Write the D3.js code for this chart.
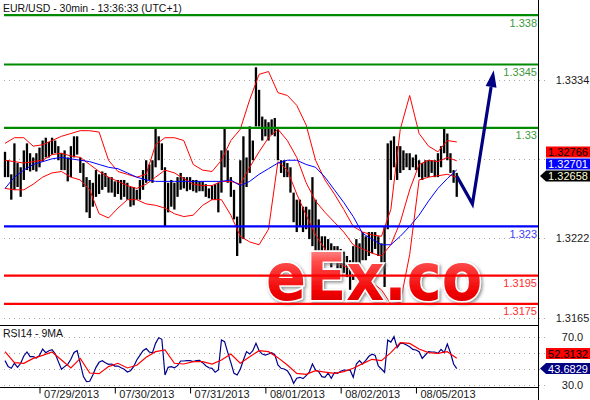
<!DOCTYPE html>
<html>
<head>
<meta charset="utf-8">
<script src="https://cdnjs.cloudflare.com/ajax/libs/d3/7.8.5/d3.min.js"></script>
<style>
body { margin: 0; background: #fff; }
svg { display: block; font-family: "Liberation Sans", Arial, sans-serif; }
</style>
</head>
<body>
<div id="chart"></div>
<script>
// ---- data (hourly bars, index 0 = 07/28 13:00) ----
var dayLabels = ["07/29/2013", "07/30/2013", "07/31/2013", "08/01/2013", "08/02/2013", "08/05/2013"];
var dayStart = [11, 35, 59, 83, 107, 131];

var barHigh = [
  1.3283, 1.3277, 1.3267, 1.3289, 1.3275, 1.3272, 1.3284, 1.3289, 1.3282, 1.3279,
  1.3282, 1.3286, 1.3291, 1.3293, 1.3290, 1.3293, 1.3291, 1.3287, 1.3282, 1.3284,
  1.3279, 1.3287, 1.3294, 1.3294, 1.3279, 1.3275, 1.3265, 1.3263, 1.3261, 1.3270,
  1.3267, 1.3269, 1.3268, 1.3265, 1.3265, 1.3262, 1.3263, 1.3263, 1.3263, 1.3261,
  1.3258, 1.3258, 1.3256, 1.3263, 1.3270, 1.3277, 1.3274, 1.3277, 1.3300, 1.3294,
  1.3289, 1.3272, 1.3261, 1.3263, 1.3261, 1.3265, 1.3268, 1.3265, 1.3265, 1.3265,
  1.3263, 1.3263, 1.3262, 1.3262, 1.3260, 1.3257, 1.3259, 1.3260, 1.3261, 1.3284,
  1.3300, 1.3284, 1.3265, 1.3256, 1.3237, 1.3277, 1.3294, 1.3279, 1.3301, 1.3291,
  1.3343, 1.3327, 1.3308, 1.3306, 1.3304, 1.3306, 1.3307, 1.3299, 1.3277, 1.3277,
  1.3275, 1.3272, 1.3254, 1.3249, 1.3249, 1.3244, 1.3244, 1.3242, 1.3265, 1.3249,
  1.3235, 1.3223, 1.3223, 1.3221, 1.3218, 1.3216, 1.3216, 1.3214, 1.3212, 1.3209,
  1.3206, 1.3216, 1.3221, 1.3218, 1.3226, 1.3223, 1.3226, 1.3226, 1.3226, 1.3223,
  1.3218, 1.3230, 1.3289, 1.3291, 1.3294, 1.3287, 1.3287, 1.3284, 1.3282, 1.3282,
  1.3279, 1.3281, 1.3277, 1.3275, 1.3277, 1.3277, 1.3277, 1.3277, 1.3282, 1.3287,
  1.3300, 1.3296, 1.3282, 1.3270, 1.3268
];
var barLow = [
  1.3265, 1.3265, 1.3249, 1.3256, 1.3258, 1.3251, 1.3263, 1.3270, 1.3269, 1.3270,
  1.3269, 1.3272, 1.3276, 1.3279, 1.3279, 1.3281, 1.3282, 1.3277, 1.3270, 1.3270,
  1.3262, 1.3265, 1.3279, 1.3281, 1.3268, 1.3258, 1.3240, 1.3236, 1.3244, 1.3251,
  1.3253, 1.3256, 1.3258, 1.3254, 1.3254, 1.3251, 1.3253, 1.3249, 1.3251, 1.3249,
  1.3244, 1.3245, 1.3249, 1.3249, 1.3256, 1.3261, 1.3263, 1.3261, 1.3272, 1.3277,
  1.3270, 1.3230, 1.3240, 1.3244, 1.3242, 1.3251, 1.3256, 1.3257, 1.3255, 1.3256,
  1.3255, 1.3254, 1.3255, 1.3255, 1.3251, 1.3250, 1.3249, 1.3249, 1.3240, 1.3254,
  1.3272, 1.3261, 1.3251, 1.3235, 1.3209, 1.3218, 1.3221, 1.3258, 1.3268, 1.3277,
  1.3301, 1.3301, 1.3291, 1.3294, 1.3291, 1.3295, 1.3294, 1.3277, 1.3268, 1.3265,
  1.3265, 1.3254, 1.3233, 1.3226, 1.3230, 1.3226, 1.3228, 1.3221, 1.3216, 1.3211,
  1.3209, 1.3206, 1.3205, 1.3206, 1.3201, 1.3204, 1.3199, 1.3197, 1.3197, 1.3194,
  1.3185, 1.3192, 1.3204, 1.3201, 1.3206, 1.3206, 1.3209, 1.3211, 1.3214, 1.3209,
  1.3201, 1.3187, 1.3228, 1.3263, 1.3272, 1.3263, 1.3268, 1.3270, 1.3272, 1.3270,
  1.3272, 1.3270, 1.3265, 1.3263, 1.3265, 1.3265, 1.3268, 1.3265, 1.3265, 1.3272,
  1.3282, 1.3277, 1.3268, 1.3261, 1.3251
];
var lastClose = 1.32658;

// bollinger bands and moving average, one value every 3 bars
var bandUpper = [
  1.3289, 1.3293, 1.3293, 1.3287, 1.3288, 1.3291, 1.3294, 1.3296, 1.3298, 1.3298,
  1.3297, 1.3277, 1.3269, 1.3267, 1.3265, 1.3267, 1.3288, 1.3293, 1.3293, 1.3291,
  1.3274, 1.3270, 1.3269, 1.3277, 1.3291, 1.3299, 1.3320, 1.3338, 1.3340, 1.3325,
  1.3323, 1.3316, 1.3302, 1.3277, 1.3263, 1.3253, 1.3242, 1.3230, 1.3226, 1.3224,
  1.3223, 1.3242, 1.3299, 1.3323, 1.3296, 1.3287, 1.3283, 1.3291, 1.3290
];
var bandMid = [
  1.3277, 1.3276, 1.3275, 1.3276, 1.3277, 1.3281, 1.3282, 1.3280, 1.3279, 1.3274,
  1.3269, 1.3265, 1.3262, 1.3259, 1.3257, 1.3260, 1.3265, 1.3270, 1.3268, 1.3264,
  1.3260, 1.3259, 1.3259, 1.3262, 1.3262, 1.3260, 1.3272, 1.3283, 1.3293, 1.3299,
  1.3291, 1.3279, 1.3261, 1.3248, 1.3240, 1.3233, 1.3226, 1.3217, 1.3214, 1.3211,
  1.3209, 1.3217, 1.3233, 1.3256, 1.3274, 1.3277, 1.3276, 1.3279, 1.32766
];
var bandLower = [
  1.3257, 1.3256, 1.3256, 1.3260, 1.3265, 1.3268, 1.3269, 1.3265, 1.3263, 1.3256,
  1.3239, 1.3236, 1.3243, 1.3249, 1.3249, 1.3246, 1.3245, 1.3243, 1.3239, 1.3237,
  1.3238, 1.3245, 1.3249, 1.3249, 1.3238, 1.3223, 1.3219, 1.3217, 1.3228, 1.3276,
  1.3270, 1.3253, 1.3238, 1.3224, 1.3214, 1.3206, 1.3202, 1.3199, 1.3195, 1.3190,
  1.3185, 1.3175, 1.3176, 1.3210, 1.3263, 1.3265, 1.3266, 1.3267, 1.3265
];
var maLong = [
  1.3257, 1.3265, 1.3270, 1.3274, 1.3276, 1.3278, 1.3279, 1.3278, 1.3277, 1.3276,
  1.3274, 1.3272, 1.3271, 1.3268, 1.3265, 1.3263, 1.3262, 1.3262, 1.3262, 1.3262,
  1.3262, 1.3262, 1.3262, 1.3262, 1.3263, 1.3259, 1.3262, 1.3267, 1.3271, 1.3275,
  1.3277, 1.3277, 1.3274, 1.3272, 1.3265, 1.3256, 1.3247, 1.3237, 1.3225, 1.3221,
  1.3217, 1.3217, 1.3223, 1.3230, 1.3238, 1.3248, 1.3257, 1.3264, 1.32701
];

var rsi = [
  50.3, 45.3, 43.9, 48.1, 44.7, 48.1, 54.2, 57.5, 53.6, 53.6,
  52.5, 54.7, 60.0, 56.9, 58.6, 59.4, 56.1, 49.5, 43.1, 45.3,
  47.2, 51.4, 57.2, 58.6, 48.1, 37.0, 32.8, 33.1, 38.3, 44.7,
  48.9, 50.3, 48.6, 47.2, 47.5, 45.8, 45.8, 44.4, 43.1, 40.8,
  41.9, 45.3, 50.8, 54.7, 58.6, 60.3, 57.5, 56.9, 64.7, 69.4,
  68.1, 38.3, 44.7, 45.3, 44.4, 46.1, 50.0, 50.0, 50.3, 50.3,
  49.5, 50.3, 50.6, 48.6, 46.1, 44.4, 43.9, 40.6, 42.5, 67.5,
  66.1, 57.2, 48.6, 39.7, 38.3, 43.1, 50.8, 57.8, 55.8, 58.6,
  64.7, 58.6, 55.8, 55.0, 55.8, 56.9, 55.3, 46.7, 43.9, 43.3,
  41.9, 37.8, 31.4, 35.6, 36.4, 35.3, 37.8, 40.6, 47.5, 42.5,
  41.1, 37.0, 36.4, 40.0, 35.6, 40.3, 39.7, 41.4, 42.5, 42.2,
  42.5, 36.4, 47.5, 50.3, 47.5, 50.6, 53.9, 55.6, 54.7, 45.8,
  43.3, 40.6, 67.5, 65.8, 70.3, 61.1, 64.7, 64.7, 63.3, 61.9,
  59.7, 59.2, 57.8, 52.2, 55.0, 57.8, 57.5, 57.5, 56.4, 59.7,
  56.9, 64.2, 56.9, 47.5, 43.6829
];
var rsiMa = [
  57.8, 48.6, 48.1, 52.2, 54.7, 57.5, 50.8, 44.2, 52.2, 40.0,
  39.4, 45.3, 48.1, 44.2, 46.4, 53.1, 57.8, 59.2, 48.1, 47.5,
  49.4, 49.4, 47.5, 50.8, 55.8, 48.1, 53.6, 58.6, 57.8, 52.8,
  46.7, 39.7, 38.9, 41.9, 40.8, 39.7, 41.1, 43.9, 47.8, 51.4,
  50.3, 57.0, 65.3, 64.7, 60.0, 57.0, 56.4, 57.8, 52.3132
];

var resistance = [1.338, 1.3345, 1.33];
var pivot = [1.323];
var support = [1.3195, 1.3175];
var priceGrid = [1.3334, 1.3278, 1.3222, 1.3165];
var priceTicks = [1.3334, 1.3222, 1.3165];
var rsiGrid = [70, 56.67, 43.33, 30];
var rsiTicks = [70, 30];

// forecast path: bar index, price
var forecastIdx = [144, 149, 155.8];
var forecastPrice = [1.32658, 1.3246, 1.3341];

// ---- layout ----
var svgWidth = 590;
var svgHeight = 400;
var plotRight = 538.5;

var svg = d3.select("#chart").append("svg")
  .attr("width", svgWidth)
  .attr("height", svgHeight);

var x = d3.scaleLinear().domain([0, 170]).range([5, 538.3]);
var y = d3.scaleLinear().domain([1.3160, 1.33908]).range([325, 0]);
var yRsi = d3.scaleLinear().domain([28.33, 79.17]).range([387, 326]);
var bandIdx = d3.range(0, 145, 3);

// logo defs
var defs = svg.append("defs");
var grad = defs.append("linearGradient").attr("id", "logoGrad")
  .attr("x1", 0).attr("y1", 0).attr("x2", 0).attr("y2", 1);
grad.append("stop").attr("offset", "0%").attr("stop-color", "#ffc4c4");
grad.append("stop").attr("offset", "30%").attr("stop-color", "#ff4a4a");
grad.append("stop").attr("offset", "70%").attr("stop-color", "#f00000");
grad.append("stop").attr("offset", "100%").attr("stop-color", "#b80000");
var shadow = defs.append("filter").attr("id", "logoShadow")
  .attr("x", "-5%").attr("y", "-10%").attr("width", "115%").attr("height", "130%");
shadow.append("feDropShadow").attr("dx", 1.5).attr("dy", 1.5)
  .attr("stdDeviation", 1.5).attr("flood-color", "#777").attr("flood-opacity", 0.8);

// dotted grid
var grid = svg.append("g").attr("stroke", "#a8a8a8").attr("stroke-dasharray", "1,4");
grid.selectAll(".gp").data(priceGrid).enter().append("line")
  .attr("x1", 4).attr("x2", 546)
  .attr("y1", d => Math.round(y(d)) + 0.5).attr("y2", d => Math.round(y(d)) + 0.5);
grid.selectAll(".gr").data(rsiGrid).enter().append("line")
  .attr("x1", 4).attr("x2", 546)
  .attr("y1", d => Math.round(yRsi(d)) + 0.5).attr("y2", d => Math.round(yRsi(d)) + 0.5);

// price bars
svg.append("g").selectAll("line").data(barHigh).enter().append("line")
  .attr("x1", (d, i) => x(i)).attr("x2", (d, i) => x(i))
  .attr("y1", d => y(d))
  .attr("y2", (d, i) => y(barLow[i]))
  .attr("stroke", "#000")
  .attr("stroke-width", 2.3);

// bands and moving average
var bandLine = d3.line().x((d, i) => x(bandIdx[i])).y(d => y(d));
[bandUpper, bandMid, bandLower].forEach(function(s) {
  svg.append("path").attr("d", bandLine(s))
    .attr("fill", "none").attr("stroke", "#ff0000").attr("stroke-width", 1);
});
svg.append("path").attr("d", bandLine(maLong))
  .attr("fill", "none").attr("stroke", "#0000ff").attr("stroke-width", 1);

// watermark logo (slightly stretched vertically)
svg.append("text")
  .attr("transform", "translate(266,300) scale(1,1.12)")
  .style("font-family", "'DejaVu Sans', sans-serif")
  .style("font-weight", "bold")
  .style("font-size", "59px")
  .attr("fill", "url(#logoGrad)")
  .attr("stroke", "#fff")
  .attr("stroke-width", 3)
  .attr("paint-order", "stroke")
  .attr("filter", "url(#logoShadow)")
  .text("eEx.co");

// horizontal levels
function drawLevels(vals, color, labelColor) {
  var g = svg.append("g");
  g.selectAll("line").data(vals).enter().append("line")
    .attr("x1", 4).attr("x2", plotRight)
    .attr("y1", d => y(d)).attr("y2", d => y(d))
    .attr("stroke", color).attr("stroke-width", 2.2);
  g.selectAll("text").data(vals).enter().append("text")
    .attr("x", 537).attr("y", d => y(d) + 11.5)
    .attr("text-anchor", "end")
    .style("font-size", "11px")
    .attr("fill", labelColor)
    .text(d => String(d));
}
drawLevels(resistance, "#008a00", "#3c9a3c");
drawLevels(pivot, "#0000ff", "#4040ff");
drawLevels(support, "#ff0000", "#ff3030");

// forecast arrow
var fp = forecastIdx.map((d, i) => [x(d), y(forecastPrice[i])]);
var tip = fp[fp.length - 1], prev = fp[fp.length - 2];
var dx = tip[0] - prev[0], dy = tip[1] - prev[1], len = Math.sqrt(dx * dx + dy * dy);
var ux = dx / len, uy = dy / len;
var base = [tip[0] - 17 * ux, tip[1] - 17 * uy];
var linePts = fp.slice(0, -1).concat([base]);
svg.append("path").attr("d", d3.line()(linePts))
  .attr("fill", "none").attr("stroke", "#000080").attr("stroke-width", 3.2)
  .attr("stroke-linejoin", "miter");
svg.append("path")
  .attr("d", d3.line()([tip, [base[0] - 5.5 * uy, base[1] + 5.5 * ux], [base[0] + 5.5 * uy, base[1] - 5.5 * ux]]) + "Z")
  .attr("fill", "#000080");

// RSI panel
var rsiLine = d3.line().x((d, i) => x(i)).y(d => yRsi(d));
svg.append("path").attr("d", rsiLine(rsi))
  .attr("fill", "none").attr("stroke", "#00008b").attr("stroke-width", 1.2);
var maLine = d3.line().x((d, i) => x(bandIdx[i])).y(d => yRsi(d));
svg.append("path").attr("d", maLine(rsiMa))
  .attr("fill", "none").attr("stroke", "#ff0000").attr("stroke-width", 1.2);

// panel borders
svg.append("line").attr("x1", 0).attr("x2", plotRight).attr("y1", 325.5).attr("y2", 325.5).attr("stroke", "#000");
svg.append("line").attr("x1", 0).attr("x2", plotRight).attr("y1", 387.5).attr("y2", 387.5).attr("stroke", "#000");
svg.append("line").attr("x1", plotRight).attr("x2", plotRight).attr("y1", 0).attr("y2", svgHeight).attr("stroke", "#000");

// date axis
var xAxis = svg.append("g")
  .attr("transform", "translate(0,387.5)")
  .call(d3.axisBottom(x).tickValues(dayStart).tickSize(6).tickFormat((d, i) => dayLabels[i]));
xAxis.select(".domain").remove();
xAxis.selectAll("line").attr("stroke", "#000");
xAxis.selectAll("text")
  .attr("x", 4).attr("y", 3)
  .attr("text-anchor", "start")
  .style("font-size", "11px")
  .style("font-family", "'Liberation Sans', Arial, sans-serif")
  .attr("fill", "#1a1a1a");

// right axes
function rightAxis(scale, ticks, fmt) {
  var g = svg.append("g")
    .attr("transform", "translate(" + plotRight + ",0)")
    .call(d3.axisRight(scale).tickValues(ticks).tickSize(0).tickFormat(d3.format(fmt)));
  g.select(".domain").remove();
  g.selectAll("text")
    .attr("x", 34)
    .attr("text-anchor", "middle")
    .style("font-size", "11px")
    .style("font-family", "'Liberation Sans', Arial, sans-serif")
    .attr("fill", "#1a1a1a");
}
rightAxis(y, priceTicks, ".4f");
rightAxis(yRsi, rsiTicks, ".1f");

// value tags on the right
function drawTags(list, scale, gap, fmt) {
  list.sort((a, b) => scale(b.v) - scale(a.v));
  var prevY = Infinity;
  list.forEach(function(t) {
    var cy = Math.min(scale(t.v), prevY - gap);
    prevY = cy;
    var h = 5.5;
    var pts = t.pointer
      ? [[540, cy], [546, cy - h], [590, cy - h], [590, cy + h], [546, cy + h]]
      : [[546, cy - h], [590, cy - h], [590, cy + h], [546, cy + h]];
    svg.append("path").attr("d", d3.line()(pts) + "Z").attr("fill", t.fill);
    svg.append("text")
      .attr("x", 568).attr("y", cy).attr("dy", "0.36em")
      .attr("text-anchor", "middle")
      .style("font-size", "11px")
      .attr("fill", t.color)
      .text(d3.format(fmt)(t.v));
  });
}
drawTags([
  { v: bandMid[bandMid.length - 1], fill: "#ff0000", color: "#000" },
  { v: maLong[maLong.length - 1], fill: "#0000ff", color: "#fff" },
  { v: lastClose, fill: "#000", color: "#ffffdd", pointer: true }
], y, 12, ".5f");
drawTags([
  { v: rsiMa[rsiMa.length - 1], fill: "#ff0000", color: "#000" },
  { v: rsi[rsi.length - 1], fill: "#000080", color: "#fff", pointer: true }
], yRsi, 15, ".4f");

// titles
svg.append("text").attr("x", 3).attr("y", 12)
  .style("font-size", "10.5px").attr("fill", "#111")
  .text("EUR/USD - 30min - 13:36:33 (UTC+1)");
svg.append("text").attr("x", 3).attr("y", 337)
  .style("font-size", "10.5px").attr("fill", "#111")
  .text("RSI14 - 9MA");
</script>
</body>
</html>
